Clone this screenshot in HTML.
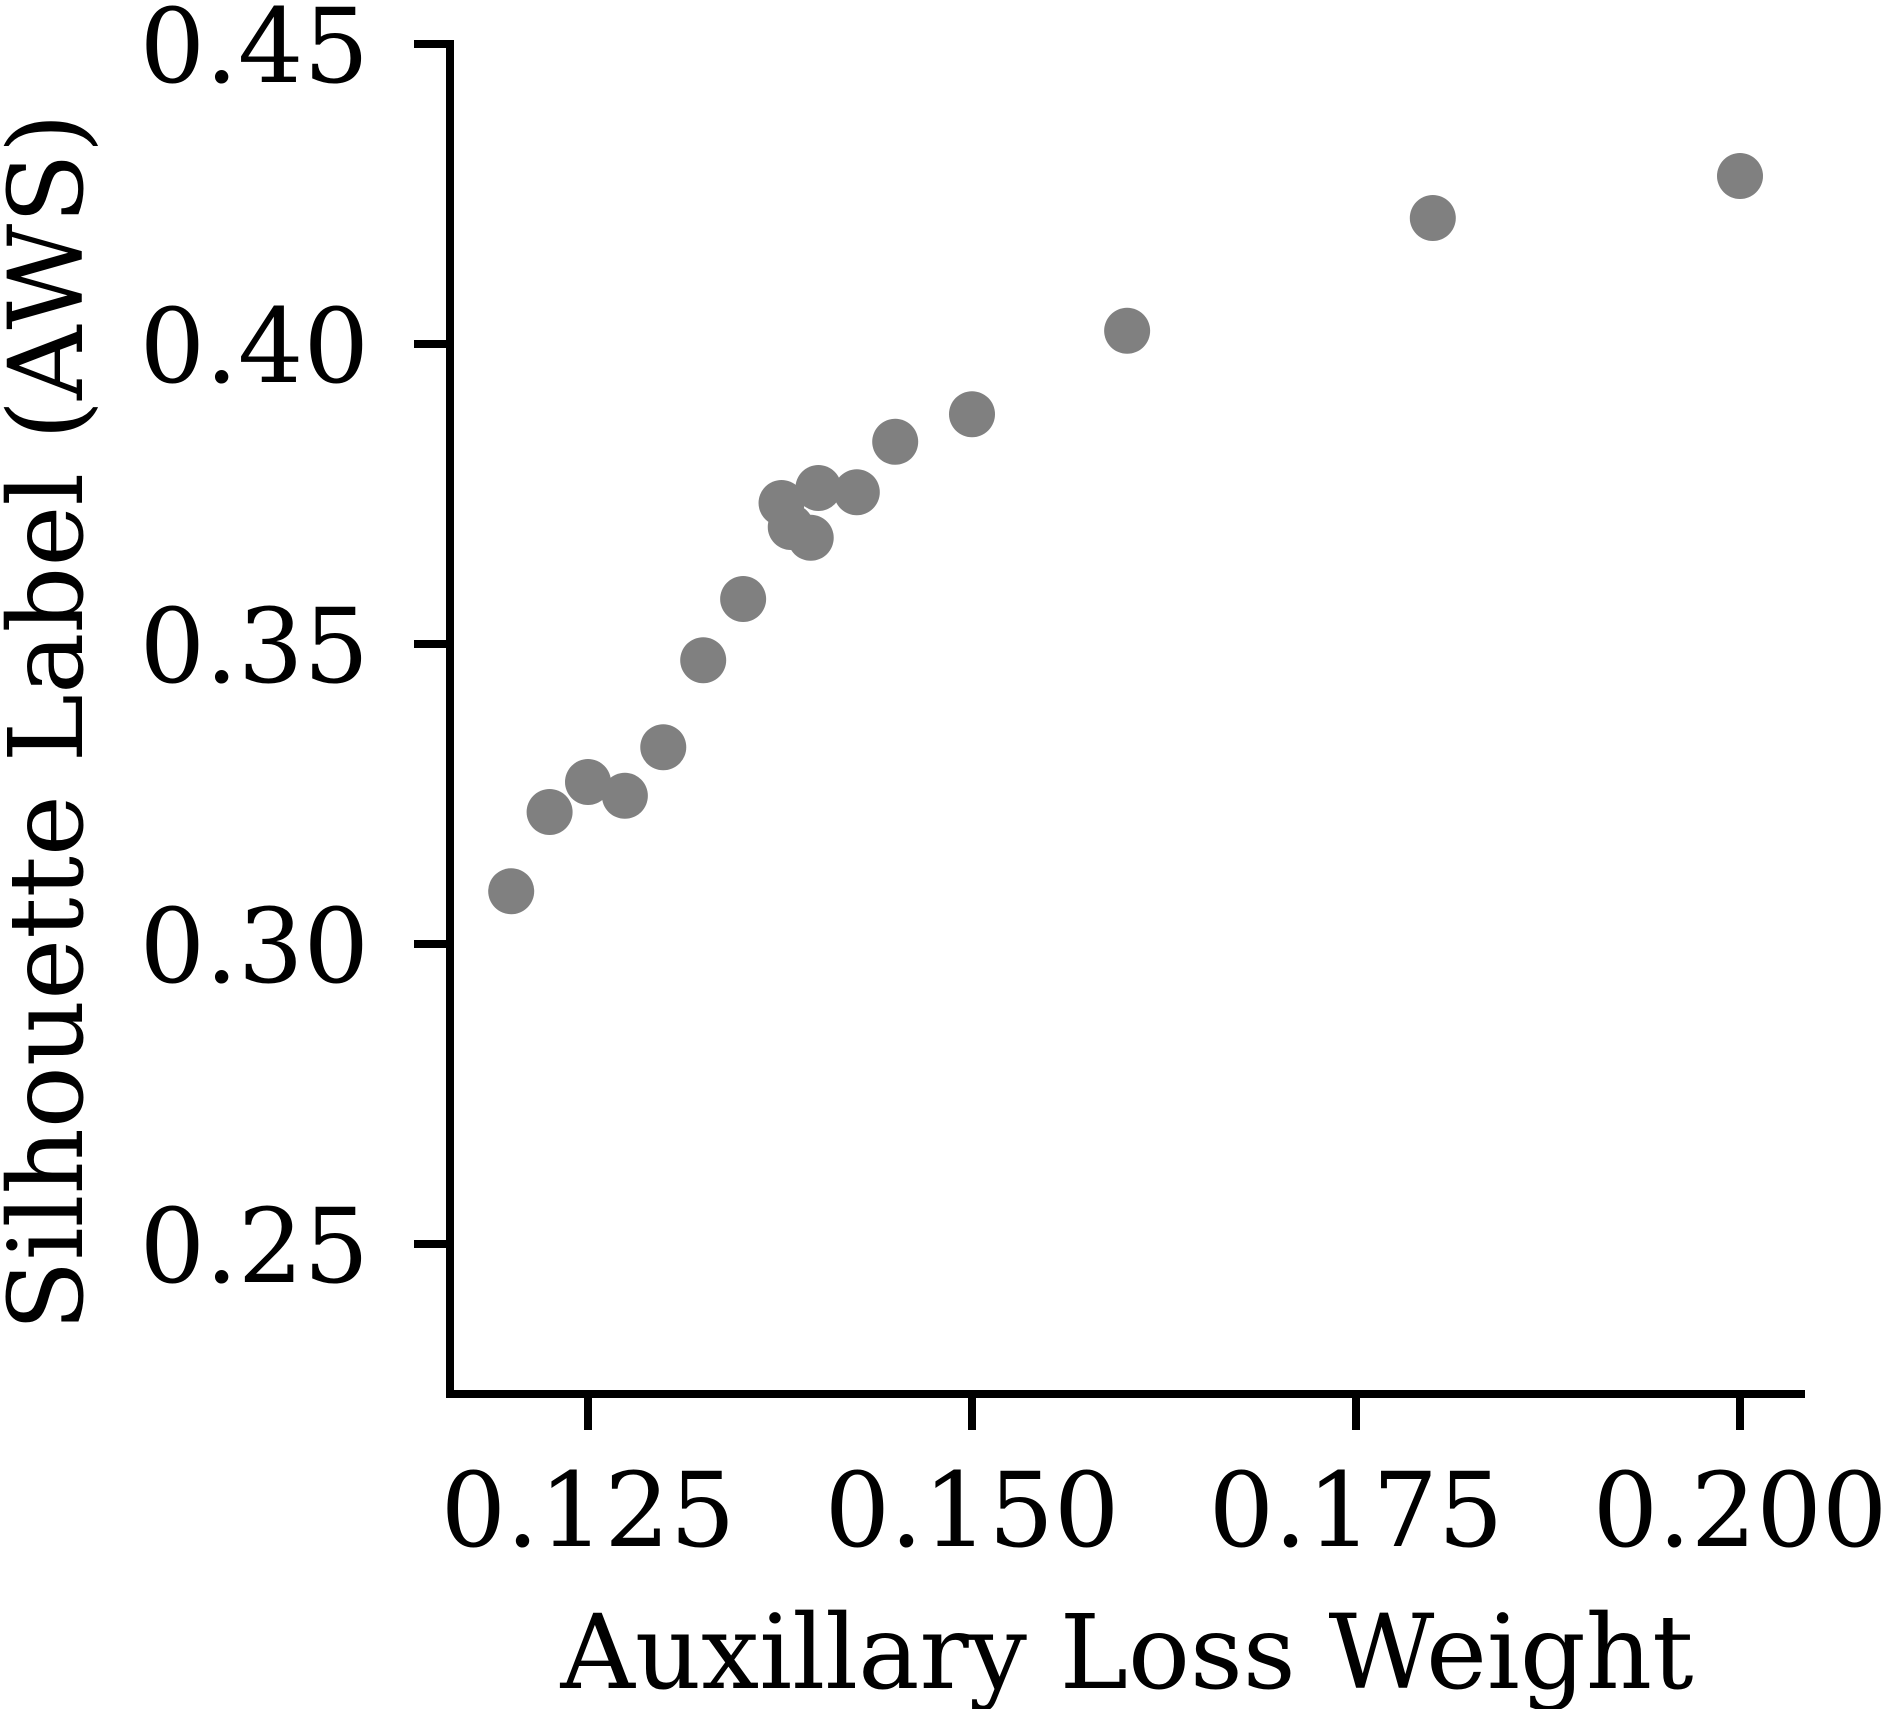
<!DOCTYPE html>
<html><head><meta charset="utf-8"><style>
html,body{margin:0;padding:0;background:#fff;}
svg text{font-family:"DejaVu Serif","Liberation Serif",serif;fill:#000;}
</style></head><body>
<svg id="chart" width="1886" height="1709" viewBox="0 0 1886 1709" xmlns="http://www.w3.org/2000/svg">
<g id="points"></g>
<g id="axes"></g>
</svg>
<script>
const xValues = [0.1200,0.1225,0.1250,0.1274,0.1299,0.1325,0.1351,0.1376,0.1382,0.1395,0.1400,0.1425,0.1450,0.1500,0.1601,0.1800,0.2000];
const yValues = [0.3088,0.3220,0.3270,0.3247,0.3328,0.3473,0.3575,0.3735,0.3695,0.3677,0.3760,0.3753,0.3837,0.3883,0.4022,0.4210,0.4280];
const xTicks = [0.125,0.150,0.175,0.200];
const xTickLabels = ["0.125","0.150","0.175","0.200"];
const yTicks = [0.25,0.30,0.35,0.40,0.45];
const yTickLabels = ["0.25","0.30","0.35","0.40","0.45"];

const NS="http://www.w3.org/2000/svg";
function xs(v){return 588+(v-0.125)/0.025*384;}
function ys(v){return 44+(0.45-v)/0.05*300;}
const pts=document.getElementById('points'), ax=document.getElementById('axes');
function mk(tag,attrs,parent){const e=document.createElementNS(NS,tag);for(const k in attrs)e.setAttribute(k,attrs[k]);parent.appendChild(e);return e;}

xValues.forEach((xv,i)=>{
  const c=mk('circle',{cx:xs(xv),cy:ys(yValues[i]),r:23,fill:'#808080'},pts);
  
  
});

const ySpine=mk('line',{x1:450,y1:40,x2:450,y2:1398,stroke:'#000','stroke-width':8},ax);


const xSpine=mk('line',{x1:446,y1:1394,x2:1805,y2:1394,stroke:'#000','stroke-width':8},ax);



xTicks.forEach((t,i)=>{
  const l=mk('line',{x1:xs(t),y1:1394,x2:xs(t),y2:1430,stroke:'#000','stroke-width':8},ax);
  
  
  const tx=mk('text',{x:xs(t),y:1546,'font-size':103,'text-anchor':'middle'},ax);
  tx.textContent=xTickLabels[i];
  
  
});
yTicks.forEach((t,i)=>{
  const l=mk('line',{x1:414,y1:ys(t),x2:450,y2:ys(t),stroke:'#000','stroke-width':8},ax);
  
  
  const tx=mk('text',{x:369,y:ys(t)+38,'font-size':103,'text-anchor':'end'},ax);
  tx.textContent=yTickLabels[i];
  
  
});
const xt=mk('text',{x:1127,y:1688,'font-size':103,'text-anchor':'middle'},ax);
xt.textContent='Auxillary Loss Weight';


const yt=mk('text',{x:0,y:0,'font-size':103,'text-anchor':'middle',transform:'translate(82,722) rotate(-90)'},ax);
yt.textContent='Silhouette Label (AWS)';


</script>
</body></html>
